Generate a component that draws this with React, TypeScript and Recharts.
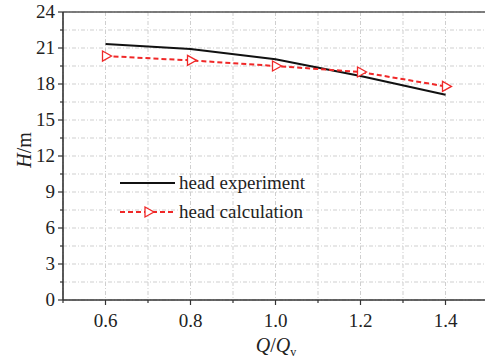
import { LineChart, Line, XAxis, YAxis, CartesianGrid, ReferenceLine } from "recharts";

const flowRatio = [0.6, 0.8, 1.0, 1.2, 1.4];
const headExperiment = [21.33, 20.92, 20.06, 18.67, 17.1];
const headCalculation = [20.33, 19.97, 19.5, 19.0, 17.8];

const xTicks = [0.5, 0.6, 0.7, 0.8, 0.9, 1.0, 1.1, 1.2, 1.3, 1.4, 1.5];
const xLabels = [0.6, 0.8, 1.0, 1.2, 1.4];
const yTicks = [0, 1.5, 3, 4.5, 6, 7.5, 9, 10.5, 12, 13.5, 15, 16.5, 18, 19.5, 21, 22.5, 24];

const data = flowRatio.map((q, i) => ({
  q,
  experiment: headExperiment[i],
  calculation: headCalculation[i],
}));

const FONT = "Liberation Serif, Times New Roman, serif";
const RED = "#f02828";
const AXIS = "#333";
const txt = { fontFamily: FONT };

const isMajor = (v: number, list: number[]) => list.some((m) => Math.abs(m - v) < 1e-6);

const XTick = (props: any) => {
  const { x, y, payload } = props;
  const major = isMajor(payload.value, xLabels);
  return (
    <g>
      <line x1={x} x2={x} y1={y} y2={y + (major ? 5 : 3)} stroke={AXIS} strokeWidth={1.2} />
      {major && (
        <text x={x} y={y + 27} textAnchor="middle" style={txt} fontSize={19} fill="#222">
          {payload.value.toFixed(1)}
        </text>
      )}
    </g>
  );
};

const YTick = (props: any) => {
  const { x, y, payload } = props;
  const major = payload.value % 3 === 0;
  return (
    <g>
      <line x1={x} x2={x - (major ? 5 : 3)} y1={y} y2={y} stroke={AXIS} strokeWidth={1.2} />
      {major && (
        <text x={x - 8} y={y + 6} textAnchor="end" style={txt} fontSize={19} fill="#222">
          {payload.value}
        </text>
      )}
    </g>
  );
};

const Triangle = (props: any) => {
  const { cx, cy } = props;
  if (cx == null || cy == null) return null;
  return (
    <path
      d={`M${cx - 3},${cy - 5} L${cx + 6},${cy} L${cx - 3},${cy + 5} Z`}
      fill="#fff"
      stroke={RED}
      strokeWidth={1.3}
    />
  );
};

const LegendBox = () => (
  <svg width={220} height={60} style={{ position: "absolute", left: 118, top: 170 }}>
    <line x1={2} x2={57} y1={13} y2={13} stroke="#111" strokeWidth={2} />
    <text x={61} y={19} style={txt} fontSize={19} fill="#222">head experiment</text>
    <line x1={2} x2={57} y1={42} y2={42} stroke={RED} strokeWidth={2} strokeDasharray="5 3" />
    <path d="M27,37 L36,42 L27,47 Z" fill="#fff" stroke={RED} strokeWidth={1.3} />
    <text x={61} y={48} style={txt} fontSize={19} fill="#222">head calculation</text>
  </svg>
);

export default function App() {
  return (
    <div style={{ position: "absolute", left: 0, top: 0, width: 485, height: 359, overflow: "hidden", background: "#fff" }}>
      <LineChart width={500} height={359} data={data} margin={{ top: 12, right: 12, bottom: 0, left: 0 }}>
        <CartesianGrid stroke="#cfcfcf" strokeDasharray="4 2 1 2" />
        <XAxis
          dataKey="q"
          type="number"
          domain={[0.5, 1.5]}
          ticks={xTicks}
          interval={0}
          height={59}
          axisLine={{ stroke: AXIS, strokeWidth: 1.6 }}
          tickLine={false}
          tickSize={0}
          tickMargin={0}
          tick={<XTick />}
          label={{
            content: () => (
              <text x={276} y={352} textAnchor="middle" style={txt} fontSize={20} fill="#222">
                <tspan fontStyle="italic">Q</tspan>
                <tspan>/</tspan>
                <tspan fontStyle="italic">Q</tspan>
                <tspan fontSize={12} dy={4}>v</tspan>
              </text>
            ),
          }}
        />
        <YAxis
          type="number"
          domain={[0, 24]}
          ticks={yTicks}
          interval={0}
          width={63}
          axisLine={{ stroke: AXIS, strokeWidth: 1.6 }}
          tickLine={false}
          tickSize={0}
          tickMargin={0}
          tick={<YTick />}
          label={{
            content: () => (
              <text
                x={31}
                y={150}
                transform="rotate(-90 31 150)"
                textAnchor="middle"
                style={txt}
                fontSize={20}
                fill="#222"
              >
                <tspan fontStyle="italic">H</tspan>
                <tspan>/m</tspan>
              </text>
            ),
          }}
        />
        <ReferenceLine y={24} stroke="#555" strokeWidth={1.4} />
        <Line
          dataKey="experiment"
          type="linear"
          stroke="#111"
          strokeWidth={2}
          dot={false}
          isAnimationActive={false}
        />
        <Line
          dataKey="calculation"
          type="linear"
          stroke={RED}
          strokeWidth={2}
          strokeDasharray="5 3"
          dot={<Triangle />}
          isAnimationActive={false}
        />
      </LineChart>
      <LegendBox />
    </div>
  );
}
